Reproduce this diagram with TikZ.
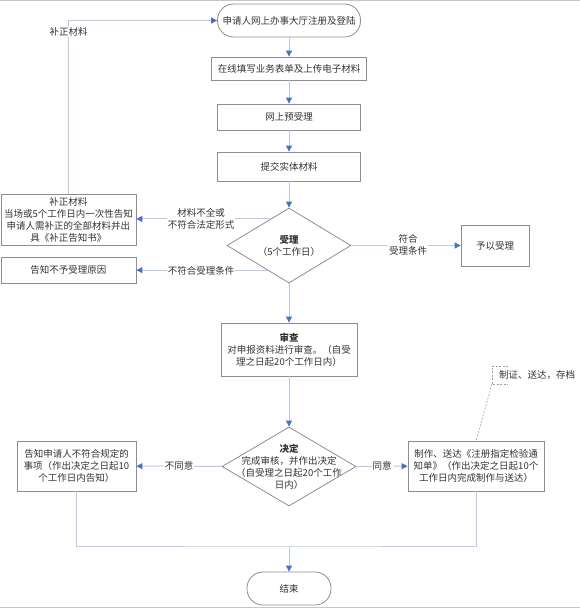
\documentclass[tikz,border=0pt]{standalone}
\usepackage{fontspec}
\setmainfont{Noto Sans CJK SC}
\usetikzlibrary{shapes.geometric,arrows.meta,calc}
\definecolor{ln}{HTML}{B9CBE4}
\definecolor{ah}{HTML}{4472C4}
\definecolor{bd}{HTML}{8E8E8E}
\definecolor{tx}{HTML}{333333}
\definecolor{dsh}{HTML}{A0A0A0}
\begin{document}
\begin{tikzpicture}[x=1pt,y=-1pt,
 every node/.style={font=\fontsize{9.5}{12}\selectfont, text=tx},
 box/.style={draw=bd, line width=0.8pt, fill=white, inner sep=0pt, align=center},
 term/.style={box, rounded corners=16pt},
 dia/.style={draw=bd, line width=0.8pt, fill=white, shape=diamond, inner sep=0pt},
 conn/.style={draw=ln, line width=1pt},
 arr/.style={conn, -{Triangle[length=6pt,width=6pt,color=ah]}},
 lab/.style={fill=white, inner sep=1pt, align=center},
 note/.style={draw=dsh, line width=0.6pt, dash pattern=on 2pt off 1.5pt},
]
\useasboundingbox (0,0) rectangle (580,608);
\draw[gray!45, line width=1pt] (0,0.5) -- (580,0.5);
\draw[gray!45, line width=1pt] (0,607) -- (580,607);

\node[term, minimum width=143pt, minimum height=33pt] (s) at (289,20.5) {申请人网上办事大厅注册及登陆};
\node[box, minimum width=155pt, minimum height=23pt] (b2) at (289,68.5) {在线填写业务表单及上传电子材料};
\node[box, minimum width=143pt, minimum height=26pt] (b3) at (289,117) {网上预受理};
\node[box, minimum width=143pt, minimum height=29pt] (b4) at (289,166.5) {提交实体材料};
\node[dia, minimum width=124pt, minimum height=75pt] (d1) at (289,245.5) {};
\node[align=center] (d1t) at (d1.center) {\textbf{受理}\\（5个工作日）};
\node[box, minimum width=135pt, minimum height=51pt] (b1) at (68.5,219.5) {补正材料\\当场或5个工作日内一次性告知\\申请人需补正的全部材料并出\\具《补正告知书》};
\node[box, minimum width=135pt, minimum height=26pt] (b5) at (68.5,270) {告知不予受理原因};
\node[box, minimum width=68pt, minimum height=41pt] (b6) at (495,245.5) {予以受理};
\node[box, minimum width=136pt, minimum height=53pt] (b7) at (289,349.5) {\textbf{审查}\\对申报资料进行审查。（自受\\理之日起20个工作日内）};
\node[dia, minimum width=134pt, minimum height=79pt] (d2) at (289,466.5) {};
\node[align=center] (d2t) at (d2.center) {\textbf{决定}\\完成审核，并作出决定\\（自受理之日起20个工作\\日内）};
\node[box, minimum width=119pt, minimum height=50pt] (b8) at (76.5,466) {告知申请人不符合规定的\\事项（作出决定之日起10\\个工作日内告知）};
\node[box, minimum width=136pt, minimum height=50pt] (b9) at (476,466) {制作、送达《注册指定检验通\\知单》（作出决定之日起10个\\工作日内完成制作与送达）};
\node[term, minimum width=84pt, minimum height=33pt] (e) at (289,588.5) {结束};

\draw[arr] (s) -- (b2);
\draw[arr] (b2) -- (b3);
\draw[arr] (b3) -- (b4);
\draw[arr] (b4) -- (d1);
\coordinate (p1) at ($(d1.north)!0.3!(d1.west)$);
\draw[arr] (p1) -- (p1 -| b1.east);
\coordinate (p2) at ($(d1.south)!0.35!(d1.west)$);
\draw[arr] (p2) -- (p2 -| b5.east);
\draw[arr] (d1) -- (b6);
\draw[arr] (b1.north) |- (s.west);
\draw[arr] (d1) -- (b7);
\draw[arr] (b7) -- (d2);
\draw[arr] (d2) -- (b8);
\draw[arr] (d2) -- (b9);
\coordinate (m) at (289,546);
\draw[conn] (b8.south) |- (m) -| (b9.south);
\draw[arr] (m) -- (e);

\node[lab] (l1) at (201,219) {材料不全或\\不符合法定形式};
\node[lab] (l2) at (201,270.5) {不符合受理条件};
\node[lab] (l3) at (408,245) {符合\\受理条件};
\node[lab] (l4) at (68.5,32) {补正材料};
\node[lab] (l5) at (179,466) {不同意};
\node[lab] (l6) at (382,466) {同意};

\coordinate (k1) at (508,366);
\coordinate (k2) at (492,366);
\coordinate (k3) at (492,384);
\coordinate (k4) at (508,384);
\draw[note] (k1) -- (k2) -- (k3) -- (k4);
\draw[note] (k3) -- (b9.north);
\node[anchor=west, inner sep=0pt] (ann) at (499,375) {制证、送达，存档};
\end{tikzpicture}
\end{document}
